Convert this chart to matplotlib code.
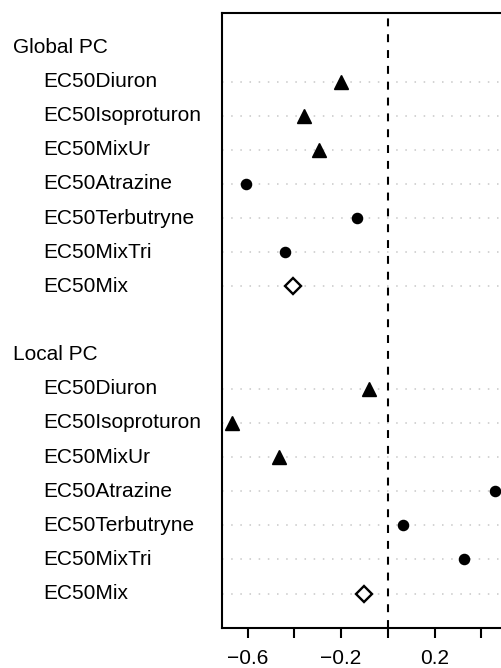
import matplotlib
matplotlib.use("Agg")
import matplotlib.pyplot as plt
import matplotlib.transforms as mtransforms

plt.rcParams['font.family'] = ['Liberation Sans', 'DejaVu Sans']

labels = ["EC50Diuron", "EC50Isoproturon", "EC50MixUr", "EC50Atrazine",
          "EC50Terbutryne", "EC50MixTri", "EC50Mix"]
markers = ["^", "^", "^", "o", "o", "o", "D"]
groups = ["Global PC", "Local PC"]
global_pc = [-0.200, -0.360, -0.293, -0.607, -0.133, -0.440, -0.406]
local_pc = [-0.079, -0.666, -0.465, 0.460, 0.064, 0.327, -0.100]
tick_vals = [-0.6, -0.4, -0.2, 0.0, 0.2, 0.4]
tick_labels = ["\u22120.6", "", "\u22120.2", "", "0.2", ""]

fig = plt.figure(figsize=(5.01, 6.68), dpi=100)
ax = fig.add_axes([0.4425, 0.0603, 0.567, 0.9198])

tr = mtransforms.blended_transform_factory(fig.transFigure, ax.transData)

for g, (name, vals) in enumerate(zip(groups, [global_pc, local_pc])):
    top = 17 - g * 9
    ax.text(13 / 501, top, name, transform=tr, ha="left", va="center", fontsize=15)
    for i, (lab, v, m) in enumerate(zip(labels, vals, markers)):
        y = top - 1 - i
        ax.axhline(y, color="#C8C8C8", lw=1.1, linestyle=(0, (1, 5)), zorder=1)
        ax.text(43 / 501, y, lab, transform=tr, ha="left", va="center", fontsize=15)
        if m == "D":
            ax.plot(v, y, marker="D", ms=8, mfc="white", mec="black", mew=1.7, zorder=3)
        elif m == "^":
            ax.plot(v, y, marker="^", ms=9.5, color="black", zorder=3)
        else:
            ax.plot(v, y, marker="o", ms=7.3, color="black", zorder=3)

ax.axvline(0, color="black", lw=1.5, linestyle=(0, (3.8, 3.8)), zorder=2)

ax.set_xlim(-0.711, 0.505)
ax.set_ylim(0, 18)
ax.set_yticks([])
ax.set_xticks(tick_vals)
ax.set_xticklabels(tick_labels)
ax.tick_params(axis="x", length=7, width=1.5, pad=8, labelsize=15)
for s in ax.spines.values():
    s.set_linewidth(1.5)

fig.savefig("out.png", dpi=100)
